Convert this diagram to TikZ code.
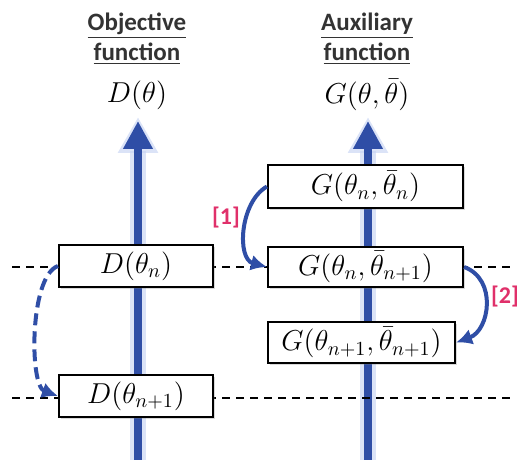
\documentclass[tikz,border=0pt]{standalone}
\usepackage{fontspec}
\usepackage{tikz}
\usetikzlibrary{positioning, arrows.meta, shadows}
\newfontfamily\headfont{Carlito}

\definecolor{axisblue}{HTML}{2F4EA6}
\definecolor{glowblue}{HTML}{C3D1F2}
\definecolor{steppink}{HTML}{E0306A}
\definecolor{headgray}{HTML}{333333}

\tikzset{
  fbox/.style={draw, line width=1.1pt, fill=white, inner sep=0pt,
    drop shadow={shadow xshift=1pt, shadow yshift=-1pt, opacity=0.3},
    font=\fontsize{14}{16}\selectfont},
  heading/.style={align=center, text=headgray, font=\headfont\bfseries\fontsize{12.5}{15}\selectfont},
  fname/.style={font=\fontsize{14}{16}\selectfont},
  axisarrow/.style={line width=4pt, axisblue, -{Triangle[width=14pt, length=14pt]}},
  axisglow/.style={line width=8pt, glowblue, opacity=0.6, shorten >=-2pt,
    -{Triangle[width=19pt, length=18pt]}},
  guide/.style={line width=0.7pt, dash pattern=on 4pt off 3pt},
  upd/.style={line width=2pt, axisblue, -{Latex[length=8pt, width=8pt]}},
  steplabel/.style={text=steppink, font=\headfont\bfseries\fontsize{12}{14}\selectfont}
}

\begin{document}
\begin{tikzpicture}[x=0.5pt, y=-0.5pt]
  \useasboundingbox (0,0) rectangle (517,459);

  % axes
  \coordinate (objbot) at (138,462);
  \coordinate (objtop) at (138,121);
  \coordinate (auxbot) at (368,462);
  \coordinate (auxtop) at (368,121);
  \draw[axisglow] (objbot) -- (objtop);
  \draw[axisarrow] (objbot) -- (objtop);
  \draw[axisglow] (auxbot) -- (auxtop);
  \draw[axisarrow] (auxbot) -- (auxtop);

  % levels
  \coordinate (lvl1w) at (12,267);
  \coordinate (lvl1e) at (512,267);
  \coordinate (lvl2w) at (12,398);
  \coordinate (lvl2e) at (512,398);
  \draw[guide] (lvl1w) -- (lvl1e);
  \draw[guide] (lvl2w) -- (lvl2e);

  % titles
  \node[heading] (objtitle) at (137,39) {\underline{Objective}\\\underline{function}};
  \node[heading] (auxtitle) at (367,39) {\underline{Auxiliary}\\\underline{function}};
  \node[fname] (objfun) at (137,95) {$D(\theta)$};
  \node[fname] (auxfun) at (367,95) {$G(\theta,\bar{\theta})$};

  % boxes
  \node[fbox, minimum width=97.5pt, minimum height=21.5pt] (gn) at (365.5,186.5) {$G(\theta_n,\bar{\theta}_n)$};
  \node[fbox, minimum width=97.5pt, minimum height=20pt] (gnext) at (365.5,267) {$G(\theta_n,\bar{\theta}_{n+1})$};
  \node[fbox, minimum width=93.5pt, minimum height=20.5pt] (gnn) at (361.5,342.5) {$G(\theta_{n+1},\bar{\theta}_{n+1})$};
  \node[fbox, minimum width=77pt, minimum height=21pt] (dn) at (136,266) {$D(\theta_n)$};
  \node[fbox, minimum width=77pt, minimum height=21pt] (dnext) at (136,396) {$D(\theta_{n+1})$};

  % updates
  \draw[upd] (gn.west) to[out=210, in=165] (gnext.west);
  \draw[upd] (gnext.east) to[out=-20, in=20, looseness=1.2] (gnn.east);
  \draw[upd, dash pattern=on 6pt off 3pt] (dn.west) to[out=200, in=160, looseness=0.6] (dnext.west);

  \node[steplabel] (lbl1) at (226,218) {[1]};
  \node[steplabel] (lbl2) at (505,297) {[2]};
\end{tikzpicture}
\end{document}
